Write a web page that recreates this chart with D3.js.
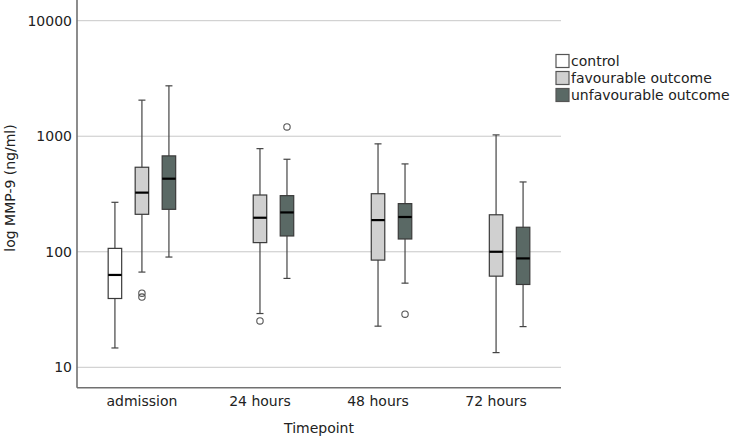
<!DOCTYPE html>
<html>
<head>
<meta charset="utf-8">
<script src="https://cdn.jsdelivr.net/npm/d3@7"></script>
<style>
  body { margin: 0; background: #fff; }
  text { font-family: "DejaVu Sans", sans-serif; fill: #222; }
</style>
</head>
<body>
<script>
var width = 731,
    height = 438;

var timepoints = ['admission', '24 hours', '48 hours', '72 hours'];
var groups = ['control', 'favourable outcome', 'unfavourable outcome'];
var yTicks = [10, 100, 1000, 10000];

// [whisker low, q1, median, q3, whisker high] per timepoint
var controlStats = [[14.7, 39.4, 63, 107, 268], null, null, null];
var favourableStats = [
  [66.7, 211, 325, 539, 2053],
  [29.2, 120, 197, 310, 781],
  [22.7, 84.7, 188, 318, 859],
  [13.4, 61.5, 100, 209, 1027]
];
var unfavourableStats = [
  [90, 233, 429, 676, 2731],
  [58.8, 137, 219, 306, 632],
  [53.5, 129, 200, 261, 576],
  [22.5, 52.1, 87.6, 163, 402]
];

var controlOutliers = [[], [], [], []];
var favourableOutliers = [[43.8, 40.5], [25.2], [], []];
var unfavourableOutliers = [[], [1205], [28.8], []];

var colors = ['#ffffff', '#d0d0d0', '#5a6965'];

var svg = d3.select('body').append('svg')
    .attr('width', width)
    .attr('height', height);

var left = 77, right = 561, bottom = 387.7;

var x = d3.scaleBand().domain(timepoints).range([left, right]).paddingOuter(0.05),
    xs = d3.scaleBand().domain(groups).range([-40.5, 40.5]),
    y = d3.scaleLog().domain([10, 10000]).range([367.3, 20.7]),
    color = d3.scaleOrdinal().domain(groups).range(colors);

// grid lines
svg.append('g')
  .selectAll('line')
  .data(yTicks)
  .enter().append('line')
  .attr('x1', left)
  .attr('x2', right)
  .attr('y1', function(d) { return y(d); })
  .attr('y2', function(d) { return y(d); })
  .attr('stroke', '#c8c8c8')
  .attr('stroke-width', 1);

// build one record per box
var allStats = [controlStats, favourableStats, unfavourableStats];
var allOutliers = [controlOutliers, favourableOutliers, unfavourableOutliers];
var boxes = [];
groups.forEach(function(g, gi) {
  timepoints.forEach(function(t, ti) {
    var s = allStats[gi][ti];
    if (!s) return;
    boxes.push({ group: g, time: t, s: s, out: allOutliers[gi][ti] });
  });
});

var boxW = 13.5, capW = 7;

var box = svg.selectAll('.box')
  .data(boxes)
  .enter().append('g')
  .attr('class', 'box')
  .attr('transform', function(d) {
    return 'translate(' + (x(d.time) + x.bandwidth() / 2 + xs(d.group) + xs.bandwidth() / 2) + ',0)';
  });

// whiskers
box.append('line')
  .attr('x1', 0).attr('x2', 0)
  .attr('y1', function(d) { return y(d.s[4]); })
  .attr('y2', function(d) { return y(d.s[0]); })
  .attr('stroke', '#444').attr('stroke-width', 1.2);

box.selectAll('.cap')
  .data(function(d) { return [d.s[0], d.s[4]]; })
  .enter().append('line')
  .attr('x1', -capW / 2).attr('x2', capW / 2)
  .attr('y1', function(v) { return y(v); })
  .attr('y2', function(v) { return y(v); })
  .attr('stroke', '#444').attr('stroke-width', 1.2);

box.append('rect')
  .attr('x', -boxW / 2)
  .attr('width', boxW)
  .attr('y', function(d) { return y(d.s[3]); })
  .attr('height', function(d) { return y(d.s[1]) - y(d.s[3]); })
  .attr('fill', function(d) { return color(d.group); })
  .attr('stroke', '#3a3a3a')
  .attr('stroke-width', 1.2);

box.append('line')
  .attr('x1', -boxW / 2).attr('x2', boxW / 2)
  .attr('y1', function(d) { return y(d.s[2]); })
  .attr('y2', function(d) { return y(d.s[2]); })
  .attr('stroke', '#000').attr('stroke-width', 2.2);

box.selectAll('circle')
  .data(function(d) { return d.out; })
  .enter().append('circle')
  .attr('cx', 0)
  .attr('cy', function(v) { return y(v); })
  .attr('r', 3.2)
  .attr('fill', 'none')
  .attr('stroke', '#555')
  .attr('stroke-width', 1.1);

// axes
var yAxis = svg.append('g')
  .attr('transform', 'translate(' + left + ',0)')
  .call(d3.axisLeft(y).tickValues(yTicks).tickFormat(d3.format('d')).tickSize(0).tickPadding(5));
yAxis.select('.domain').remove();
yAxis.selectAll('text').style('font-size', '14px');

var xAxis = svg.append('g')
  .attr('transform', 'translate(0,' + bottom + ')')
  .call(d3.axisBottom(x).tickSize(0).tickPadding(8));
xAxis.select('.domain').remove();
xAxis.selectAll('text').style('font-size', '14px');

// frame
svg.append('line')
  .attr('x1', left).attr('x2', left).attr('y1', 0).attr('y2', bottom)
  .attr('stroke', '#707070').attr('stroke-width', 1.6);
svg.append('line')
  .attr('x1', left).attr('x2', right).attr('y1', bottom).attr('y2', bottom)
  .attr('stroke', '#707070').attr('stroke-width', 1.6);

// axis titles
svg.append('text')
  .attr('x', (left + right) / 2)
  .attr('y', 433)
  .attr('text-anchor', 'middle')
  .style('font-size', '14px')
  .text('Timepoint');

svg.append('text')
  .attr('transform', 'translate(15,188) rotate(-90)')
  .attr('text-anchor', 'middle')
  .style('font-size', '14px')
  .text('log MMP-9 (ng/ml)');

// legend
var legend = svg.selectAll('.legend')
  .data(groups)
  .enter().append('g')
  .attr('class', 'legend')
  .attr('transform', function(d, i) { return 'translate(556,' + (54.5 + i * 17) + ')'; });

legend.append('rect')
  .attr('width', 13).attr('height', 13)
  .attr('fill', function(d) { return color(d); })
  .attr('stroke', '#555').attr('stroke-width', 1.2);

legend.append('text')
  .attr('x', 15)
  .attr('y', 7)
  .attr('dy', '0.35em')
  .style('font-size', '14px')
  .text(function(d) { return d; });
</script>
</body>
</html>
